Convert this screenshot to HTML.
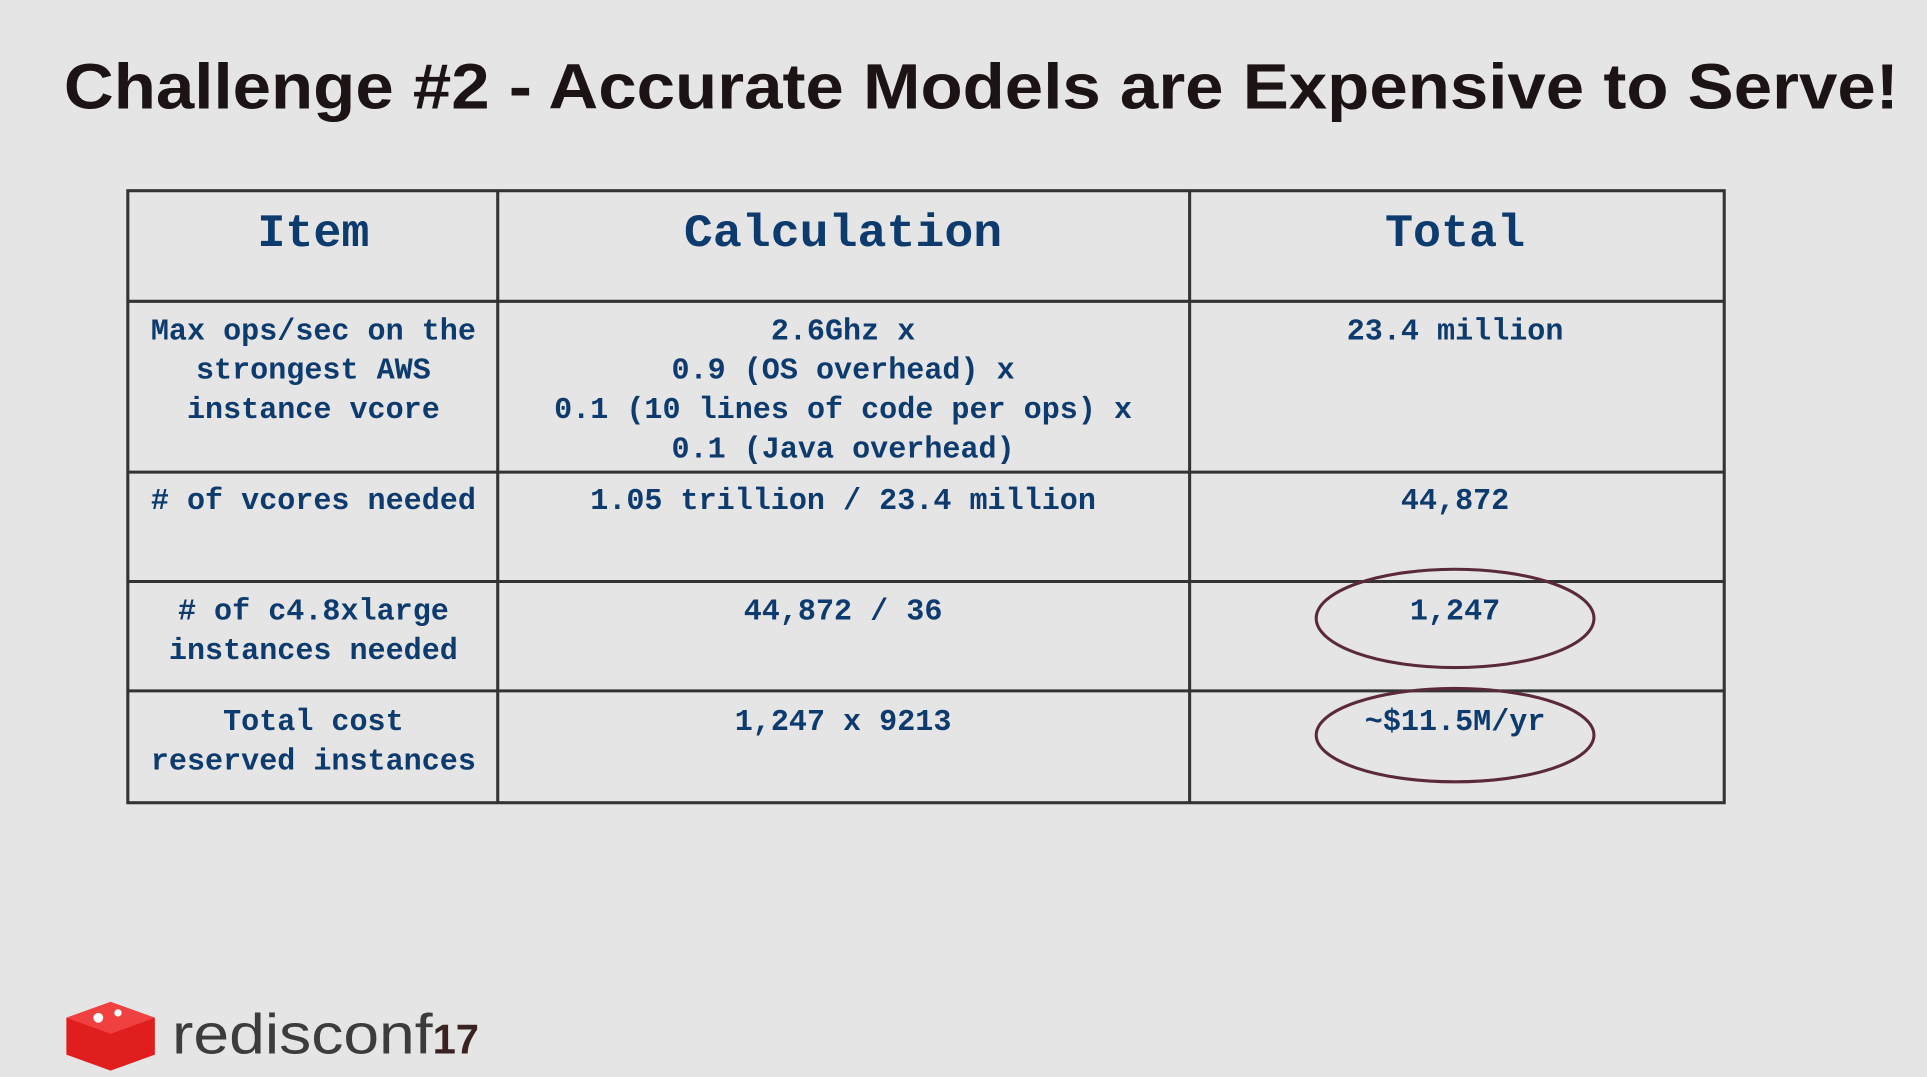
<!DOCTYPE html>
<html><head><meta charset="utf-8">
<style>
html,body{margin:0;padding:0;background:#e4e4e4;overflow:hidden}
svg{display:block}
.t{font-family:"Liberation Sans",sans-serif;font-weight:bold;fill:#1c1414}
.m{font-family:"Liberation Mono",monospace;font-weight:bold;fill:#0d3b6e}
</style></head>
<body>
<svg width="1927" height="1077" viewBox="0 0 1568 876" xmlns="http://www.w3.org/2000/svg">
<rect x="0" y="0" width="1568" height="876" fill="#e5e5e5"/>
<text class="t" x="52" y="88" font-size="52" textLength="1493" lengthAdjust="spacingAndGlyphs">Challenge #2 - Accurate Models are Expensive to Serve!</text>

<g stroke="#333" stroke-width="2.5" fill="none">
<rect x="104" y="155" width="1299" height="498"/>
<line x1="405" y1="155" x2="405" y2="653"/>
<line x1="968" y1="155" x2="968" y2="653"/>
<line x1="104" y1="245" x2="1403" y2="245"/>
<line x1="104" y1="384" x2="1403" y2="384"/>
<line x1="104" y1="473" x2="1403" y2="473"/>
<line x1="104" y1="562" x2="1403" y2="562"/>
</g>

<g text-anchor="middle">
<text class="m" x="255" y="200" font-size="38">Item</text>
<text class="m" x="686" y="200" font-size="38" textLength="259" lengthAdjust="spacingAndGlyphs">Calculation</text>
<text class="m" x="1184" y="200" font-size="38">Total</text>

<g font-size="24.5">
<text class="m" x="255" y="276"><tspan x="255">Max ops/sec on the</tspan><tspan x="255" dy="32">strongest AWS</tspan><tspan x="255" dy="32">instance vcore</tspan></text>
<text class="m" x="686" y="276"><tspan x="686">2.6Ghz x</tspan><tspan x="686" dy="32">0.9 (OS overhead) x</tspan><tspan x="686" dy="32">0.1 (10 lines of code per ops) x</tspan><tspan x="686" dy="32">0.1 (Java overhead)</tspan></text>
<text class="m" x="1184" y="276">23.4 million</text>

<text class="m" x="255" y="414">
# of vcores needed</text>
<text class="m" x="686" y="414">1.05 trillion / 23.4 million</text>
<text class="m" x="1184" y="414">44,872</text>

<text class="m" x="255" y="504"><tspan x="255"># of c4.8xlarge</tspan><tspan x="255" dy="32">instances needed</tspan></text>
<text class="m" x="686" y="504">44,872 / 36</text>
<text class="m" x="1184" y="504">1,247</text>

<text class="m" x="255" y="594"><tspan x="255">Total cost</tspan><tspan x="255" dy="32">reserved instances</tspan></text>
<text class="m" x="686" y="594">1,247 x 9213</text>
<text class="m" x="1184" y="594">~$11.5M/yr</text>
</g>
</g>

<ellipse cx="1184" cy="503" rx="113" ry="40" fill="none" stroke="#5a2a3c" stroke-width="2.5"/>
<ellipse cx="1184" cy="598" rx="113" ry="38" fill="none" stroke="#5a2a3c" stroke-width="2.5"/>

<g>
<polygon points="54,828 90,815 126,828 126,858 90,871 54,858" fill="#e01e1e"/>
<polygon points="54,828 90,815 126,828 90,841" fill="#f04040"/>
<circle cx="80" cy="828" r="4" fill="#fff"/>
<circle cx="96" cy="824" r="3" fill="#fff"/>
<text x="140" y="857" font-family="Liberation Sans,sans-serif" font-size="46" fill="#3c3c3c" textLength="212" lengthAdjust="spacingAndGlyphs">redisconf</text>
<text x="352" y="857" font-family="Liberation Sans,sans-serif" font-weight="bold" font-size="34" fill="#3a2222">17</text>
</g>
</svg>
</body></html>
